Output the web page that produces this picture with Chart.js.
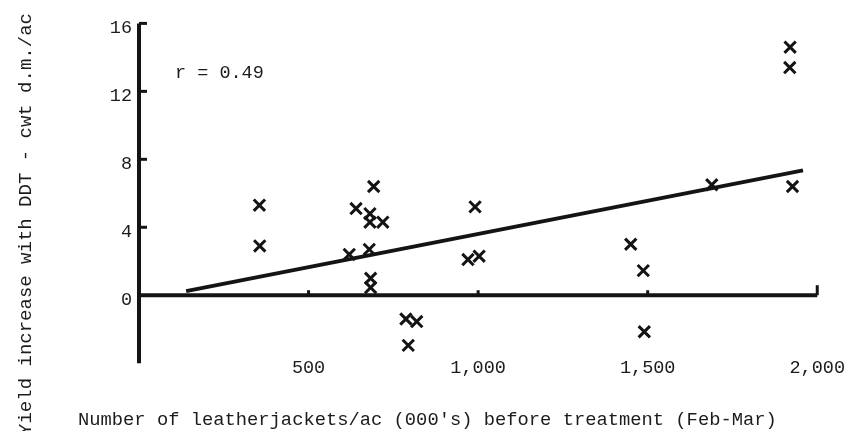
<!DOCTYPE html>
<html>
<head>
<meta charset="utf-8">
<script src="https://cdn.jsdelivr.net/npm/chart.js@4/dist/chart.umd.min.js"></script>
<style>
html,body{margin:0;padding:0;background:#ffffff;}
#wrap{width:849px;height:431px;}
</style>
</head>
<body>
<div id="wrap"><canvas id="c" width="849" height="431"></canvas></div>
<script>
// Leatherjackets/ac (000's) before treatment
const larvae = [355, 356, 692, 640, 681, 681, 719, 620, 679, 683, 683, 991, 970, 1003, 787, 819, 794, 1450, 1487, 1490, 1689, 1920, 1919, 1927];
// Yield increase with DDT (cwt d.m./ac)
const yieldIncrease = [5.3, 2.9, 6.4, 5.1, 4.8, 4.3, 4.3, 2.4, 2.7, 1.0, 0.45, 5.2, 2.1, 2.3, -1.4, -1.55, -2.95, 3.0, 1.45, -2.15, 6.5, 14.6, 13.4, 6.4];
// Fitted regression line
const fitX = [139, 1958];
const fitY = [0.24, 7.35];

const xTickValues = [500, 1000, 1500, 2000];
const xTickLabels = ['500', '1,000', '1,500', '2,000'];
const yTickValues = [0, 4, 8, 12, 16];
const yTickLabels = ['0', '4', '8', '12', '16'];
const yAxisExtent = [-4, 16];
const xAxisExtent = [0, 2000];

const xTitle = "Number of leatherjackets/ac (000's) before treatment (Feb-Mar)";
const yTitle = "Yield increase with DDT - cwt d.m./ac";
const corrText = "r = 0.49";

const INK = '#141414';
const TEXT = '#1c1c1c';
const FONT = "'Liberation Mono', 'Courier New', monospace";

const handAxes = {
  id: 'handAxes',
  beforeDatasetsDraw(chart) {
    const {ctx, scales: {x, y}} = chart;
    const x0 = x.getPixelForValue(0);
    const y0 = y.getPixelForValue(0);
    ctx.save();
    ctx.strokeStyle = INK;
    ctx.lineCap = 'butt';
    ctx.lineWidth = 4;
    ctx.beginPath();
    ctx.moveTo(x0, y.getPixelForValue(yAxisExtent[0]));
    ctx.lineTo(x0, y.getPixelForValue(yAxisExtent[1]));
    ctx.stroke();
    ctx.beginPath();
    ctx.moveTo(x0 - 2, y0);
    ctx.lineTo(x.getPixelForValue(xAxisExtent[1]), y0);
    ctx.stroke();
    ctx.lineWidth = 3;
    yTickValues.forEach(v => {
      if (v === 0) return;
      const py = y.getPixelForValue(v);
      ctx.beginPath(); ctx.moveTo(x0, py); ctx.lineTo(x0 + 8, py); ctx.stroke();
    });
    xTickValues.forEach(v => {
      const px = x.getPixelForValue(v);
      ctx.beginPath(); ctx.moveTo(px, y0); ctx.lineTo(px, y0 - (v === xAxisExtent[1] ? 10 : 5)); ctx.stroke();
    });
    ctx.restore();
  },
  afterDraw(chart) {
    const {ctx, chartArea} = chart;
    ctx.save();
    ctx.fillStyle = TEXT;
    ctx.textBaseline = 'alphabetic';
    ctx.font = "18.8px " + FONT;
    ctx.textAlign = 'left';
    ctx.fillText(xTitle, 78, 425);
    ctx.font = "18.5px " + FONT;
    ctx.fillText(corrText, chartArea.left + 36, 78);
    ctx.translate(31, 224);
    ctx.rotate(-Math.PI / 2);
    ctx.textAlign = 'center';
    ctx.font = "19px " + FONT;
    ctx.fillText(yTitle, 0, 0);
    ctx.restore();
  }
};

const scatterPts = larvae.map((v, i) => ({x: v, y: yieldIncrease[i]}));
const fitPts = fitX.map((v, i) => ({x: v, y: fitY[i]}));

new Chart(document.getElementById('c'), {
  type: 'scatter',
  data: {
    datasets: [
      {
        label: 'Plots',
        data: scatterPts,
        pointStyle: 'crossRot',
        pointRadius: 8,
        pointHoverRadius: 8,
        pointBorderWidth: 3,
        borderColor: INK,
        backgroundColor: INK
      },
      {
        label: 'Regression',
        data: fitPts,
        showLine: true,
        borderColor: INK,
        borderWidth: 4,
        pointRadius: 0,
        fill: false
      }
    ]
  },
  options: {
    responsive: false,
    animation: false,
    devicePixelRatio: 1,
    layout: {padding: {top: 20, right: 30, left: 0, bottom: 0}},
    plugins: {legend: {display: false}, tooltip: {enabled: false}},
    scales: {
      x: {
        type: 'linear',
        min: xAxisExtent[0],
        max: xAxisExtent[1],
        grid: {display: false, drawTicks: false},
        border: {display: false},
        afterBuildTicks: s => { s.ticks = xTickValues.map(v => ({value: v})); },
        afterFit: s => { s.height = 78; },
        ticks: {
          autoSkip: false,
          maxRotation: 0,
          padding: 4,
          color: TEXT,
          font: {family: FONT, size: 18.5},
          callback: v => { const i = xTickValues.indexOf(v); return i < 0 ? '' : xTickLabels[i]; }
        }
      },
      y: {
        type: 'linear',
        min: -3.4,
        max: 16.2,
        grid: {display: false, drawTicks: false},
        border: {display: false},
        afterBuildTicks: s => { s.ticks = yTickValues.map(v => ({value: v})); },
        afterFit: s => { s.width = 139; },
        ticks: {
          autoSkip: false,
          padding: 7,
          labelOffset: 5,
          color: TEXT,
          font: {family: FONT, size: 18.5},
          callback: v => { const i = yTickValues.indexOf(v); return i < 0 ? '' : yTickLabels[i]; }
        }
      }
    }
  },
  plugins: [handAxes]
});
</script>
</body>
</html>
